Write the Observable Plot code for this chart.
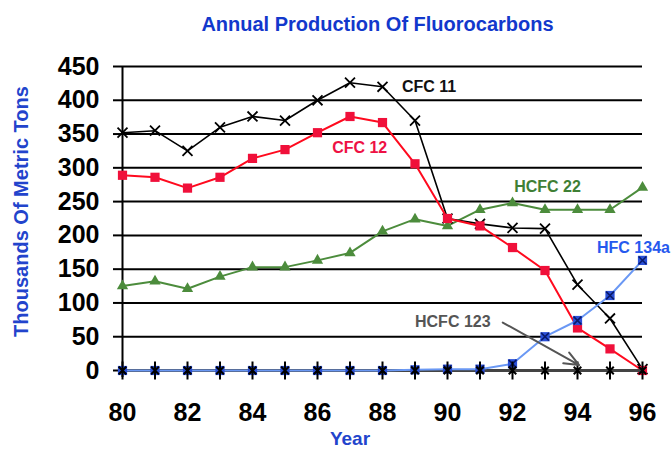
<!DOCTYPE html>
<html><head><meta charset="utf-8">
<script src="https://cdn.jsdelivr.net/npm/d3@7"></script>
<script src="https://cdn.jsdelivr.net/npm/@observablehq/plot@0.6"></script>
<style>body{margin:0;background:#fff}</style>
</head><body><div id="chart"></div>
<script>
const years   = [80,81,82,83,84,85,86,87,88,89,90,91,92,93,94,95,96];
const cfc11   = [352,355,325,360,376,370,400,426,420,370,225,217,211,210,127,77,2];
const cfc12   = [289,286,270,286,314,327,352,376,367,306,225,214,182,148,63,32,0];
const hcfc22  = [125,132,121,139,153,153,163,174,206,224,214,238,248,238,238,238,271];
const hfc134a = [0,0,0,0,0,0,0,0,0,1,2,2,10,50,74,111,163];
const hcfc123 = [0,0,0,0,0,0,0,0,0,0,0,0,0,0,0,0,0];
const yTicks  = [0,50,100,150,200,250,300,350,400,450];
const xTicks  = [80,82,84,86,88,90,92,94,96];

const titleText = "Annual Production Of Fluorocarbons";
const yLabelText = "Thousands Of Metric Tons";
const xLabelText = "Year";

const labelNames  = ["CFC 11","CFC 12","HCFC 22","HFC 134a","HCFC 123"];
const labelX      = [88.6, 86.45, 92.05, 94.6, 89.0];
const labelY      = [420, 329, 272, 181, 72];
const labelColors = ["#111111","#ee1144","#3f7f35","#2659ee","#555555"];
const arrowFrom   = [91.7, 71];
const arrowTo     = [94.05, 8];

const rowsOf = vals => years.map((year, i) => ({year, value: vals[i]}));
const labels = labelNames.map((name, i) => ({name, x: labelX[i], y: labelY[i], color: labelColors[i]}));
const arrows = [{x1: arrowFrom[0], y1: arrowFrom[1], x2: arrowTo[0], y2: arrowTo[1]}];

const tickStar = {draw(ctx, size) {
  const r = Math.sqrt(size / Math.PI);
  ctx.moveTo(0, -r); ctx.lineTo(0, r);
  const s = r * 0.42;
  ctx.moveTo(-s, -s); ctx.lineTo(s, s);
  ctx.moveTo(-s, s); ctx.lineTo(s, -s);
}};

const bold = {fontWeight: "bold"};

const chart = Plot.plot({
  width: 671, height: 454,
  marginLeft: 122, marginRight: 29, marginTop: 66, marginBottom: 84,
  style: {fontFamily: "Arial, 'Liberation Sans', sans-serif", background: "#fff", color: "#000"},
  x: {domain: [80, 96]},
  y: {domain: [0, 450]},
  marks: [
    Plot.ruleY(yTicks, {stroke: "#000", strokeWidth: 2}),
    Plot.ruleX([80], {stroke: "#000", strokeWidth: 2, insetBottom: -7}),
    Plot.axisY({ticks: yTicks, tickSize: 9, tickPadding: 14, fontSize: 25, ...bold, stroke: "#000", strokeWidth: 2, strokeOpacity: 1, tickFormat: d => String(d), label: null}),
    Plot.axisX({ticks: xTicks, tickSize: 0, tickPadding: 33, fontSize: 25, ...bold, tickFormat: d => String(d), label: null}),

    Plot.line(rowsOf(hcfc22), {x: "year", y: "value", stroke: "#4c8c3c", strokeWidth: 2}),
    Plot.dot(rowsOf(hcfc22), {x: "year", y: "value", symbol: "triangle", r: 4.2, fill: "#4c8c3c", stroke: "none"}),

    Plot.line(rowsOf(cfc11), {x: "year", y: "value", stroke: "#000", strokeWidth: 1.6}),
    Plot.dot(rowsOf(cfc11), {x: "year", y: "value", symbol: "times", r: 4.6, stroke: "#000", strokeWidth: 1.8}),

    Plot.line(rowsOf(cfc12), {x: "year", y: "value", stroke: "#ff0a1e", strokeWidth: 2}),
    Plot.dot(rowsOf(cfc12), {x: "year", y: "value", symbol: "square", r: 5.2, fill: "#f0103a", stroke: "none"}),

    Plot.line(rowsOf(hcfc123), {x: "year", y: "value", stroke: "#444", strokeWidth: 3}),

    Plot.line(rowsOf(hfc134a), {x: "year", y: "value", stroke: "#6a98f4", strokeWidth: 2}),
    Plot.dot(rowsOf(hfc134a), {x: "year", y: "value", symbol: "square", r: 5.2, fill: "#2a50d8", stroke: "none"}),
    Plot.dot(rowsOf(hfc134a), {x: "year", y: "value", symbol: "times", r: 3.6, stroke: "#0a1a6a", strokeWidth: 1.5}),

    Plot.dot(rowsOf(hcfc123), {x: "year", y: "value", symbol: tickStar, r: 9, stroke: "#000", strokeWidth: 2}),

    Plot.arrow(arrows, {x1: "x1", y1: "y1", x2: "x2", y2: "y2", stroke: "#555", strokeWidth: 2, headLength: 12, headAngle: 45}),
    Plot.text(labels, {x: "x", y: "y", text: "name", fill: "color", textAnchor: "start", fontSize: 16, ...bold}),

    Plot.text([titleText], {text: d => d, frameAnchor: "top", textAnchor: "middle", dx: -5, dy: -50, fontSize: 20, ...bold, fill: "#1238cc"}),
    Plot.text([yLabelText], {text: d => d, frameAnchor: "left", textAnchor: "middle", dx: -101, dy: -7, rotate: -90, fontSize: 20, ...bold, fill: "#2244cc"}),
    Plot.text([xLabelText], {x: [87], text: d => d, frameAnchor: "bottom", dy: 74, fontSize: 19, ...bold, fill: "#2244cc"})
  ]
});
document.getElementById("chart").appendChild(chart);
</script>
</body></html>
